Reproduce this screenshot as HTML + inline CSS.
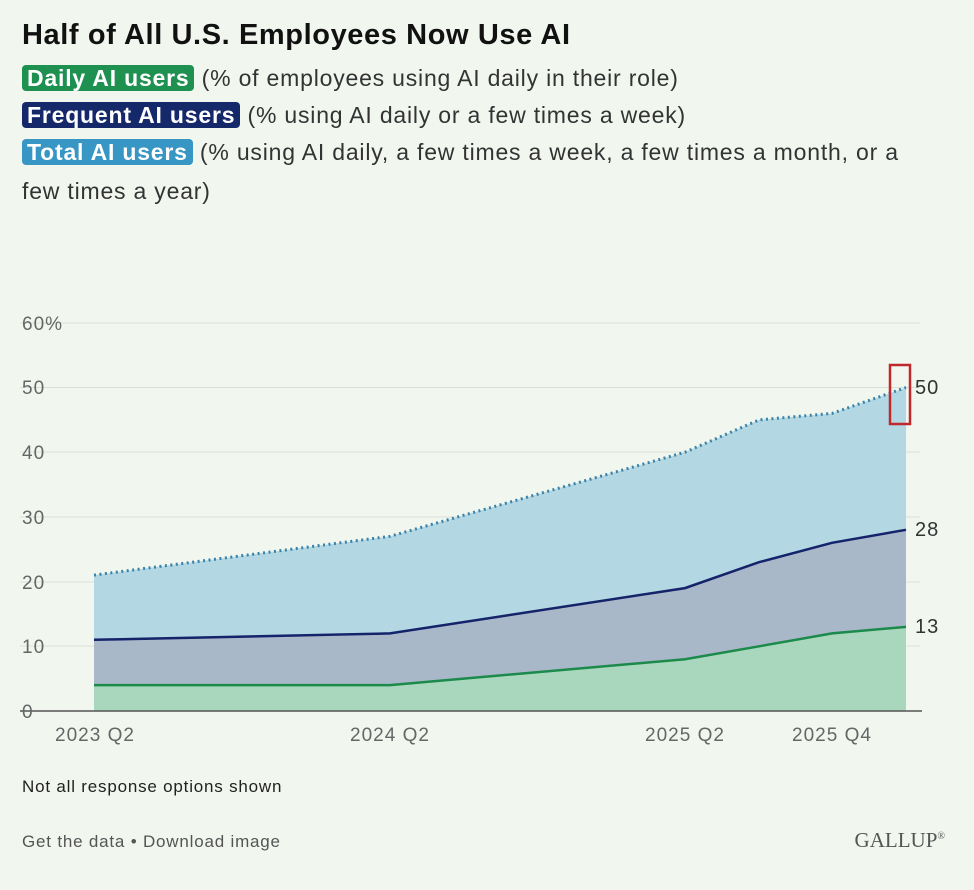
<!DOCTYPE html>
<html><head><style>
body{margin:0;background:#f1f7ef;width:974px;height:890px;overflow:hidden;font-family:"Liberation Sans",sans-serif;color:#333}
.t{position:absolute;left:22px;top:19px;font-size:29px;font-weight:bold;color:#111;letter-spacing:0.6px;white-space:nowrap}
.l{position:absolute;left:22px;font-size:23px;color:#333;white-space:nowrap;letter-spacing:0.8px}
.b{display:inline-block;color:#fff;font-weight:bold;border-radius:4px;padding:0 5px;line-height:26px}
</style></head><body>
<div class="t">Half of All U.S. Employees Now Use AI</div>
<div class="l" style="top:65px"><span class="b" style="background:#1e9050">Daily AI users</span> (% of employees using AI daily in their role)</div>
<div class="l" style="top:102px"><span class="b" style="background:#15286a">Frequent AI users</span> (% using AI daily or a few times a week)</div>
<div class="l" style="top:139px"><span class="b" style="background:#3796c4">Total AI users</span> (% using AI daily, a few times a week, a few times a month, or a</div>
<div class="l" style="top:178px">few times a year)</div>
<svg width="974" height="890" style="position:absolute;left:0;top:0" font-family="Liberation Sans, sans-serif">
<g stroke="#dadfd8" stroke-width="1">
<line x1="20" x2="920" y1="323" y2="323"/><line x1="20" x2="920" y1="387.5" y2="387.5"/><line x1="20" x2="920" y1="452" y2="452"/><line x1="20" x2="920" y1="517" y2="517"/><line x1="20" x2="920" y1="582" y2="582"/><line x1="20" x2="920" y1="646" y2="646"/>
</g>
<polygon fill="#b3d8e3" points="94,575.1 390,536.3 685,452.2 759,419.9 832,413.4 906,387.5 906,711 94,711"/>
<polygon fill="#a9b8c9" points="94,639.8 390,633.4 685,588.1 759,562.2 832,542.8 906,529.8 906,711 94,711"/>
<polygon fill="#a8d7bd" points="94,685.1 390,685.1 685,659.2 759,646.3 832,633.4 906,626.9 906,711 94,711"/>
<polyline fill="none" stroke="#3a82a8" stroke-width="3" stroke-dasharray="2,3.5" points="94,575.1 390,536.3 685,452.2 759,419.9 832,413.4 906,387.5"/>
<polyline fill="none" stroke="#14236a" stroke-width="2.5" points="94,639.8 390,633.4 685,588.1 759,562.2 832,542.8 906,529.8"/>
<polyline fill="none" stroke="#1b8a4a" stroke-width="2.5" points="94,685.1 390,685.1 685,659.2 759,646.3 832,633.4 906,626.9"/>
<line x1="20" x2="922" y1="711" y2="711" stroke="#555" stroke-width="1.5"/>
<rect x="890" y="365" width="20" height="59" fill="none" stroke="#c0282d" stroke-width="2.5"/>
<g font-size="19" fill="#666" letter-spacing="1">
<text x="22" y="330">60%</text><text x="22" y="394">50</text><text x="22" y="459">40</text><text x="22" y="524">30</text><text x="22" y="589">20</text><text x="22" y="653">10</text><text x="22" y="718">0</text>
<text x="95" y="741" text-anchor="middle">2023 Q2</text><text x="390" y="741" text-anchor="middle">2024 Q2</text><text x="685" y="741" text-anchor="middle">2025 Q2</text><text x="832" y="741" text-anchor="middle">2025 Q4</text>
</g>
<g font-size="20" fill="#333" letter-spacing="1"><text x="915" y="394">50</text><text x="915" y="536">28</text><text x="915" y="633">13</text></g>
<text x="22" y="792" font-size="17" fill="#222" letter-spacing="0.8">Not all response options shown</text>
<text x="22" y="847" font-size="17" fill="#555" letter-spacing="0.8">Get the data • Download image</text>
<text x="945" y="847" font-size="21" fill="#555" text-anchor="end" font-family="Liberation Serif, serif">GALLUP<tspan font-size="10" dy="-8">®</tspan></text>
</svg>
</body></html>
